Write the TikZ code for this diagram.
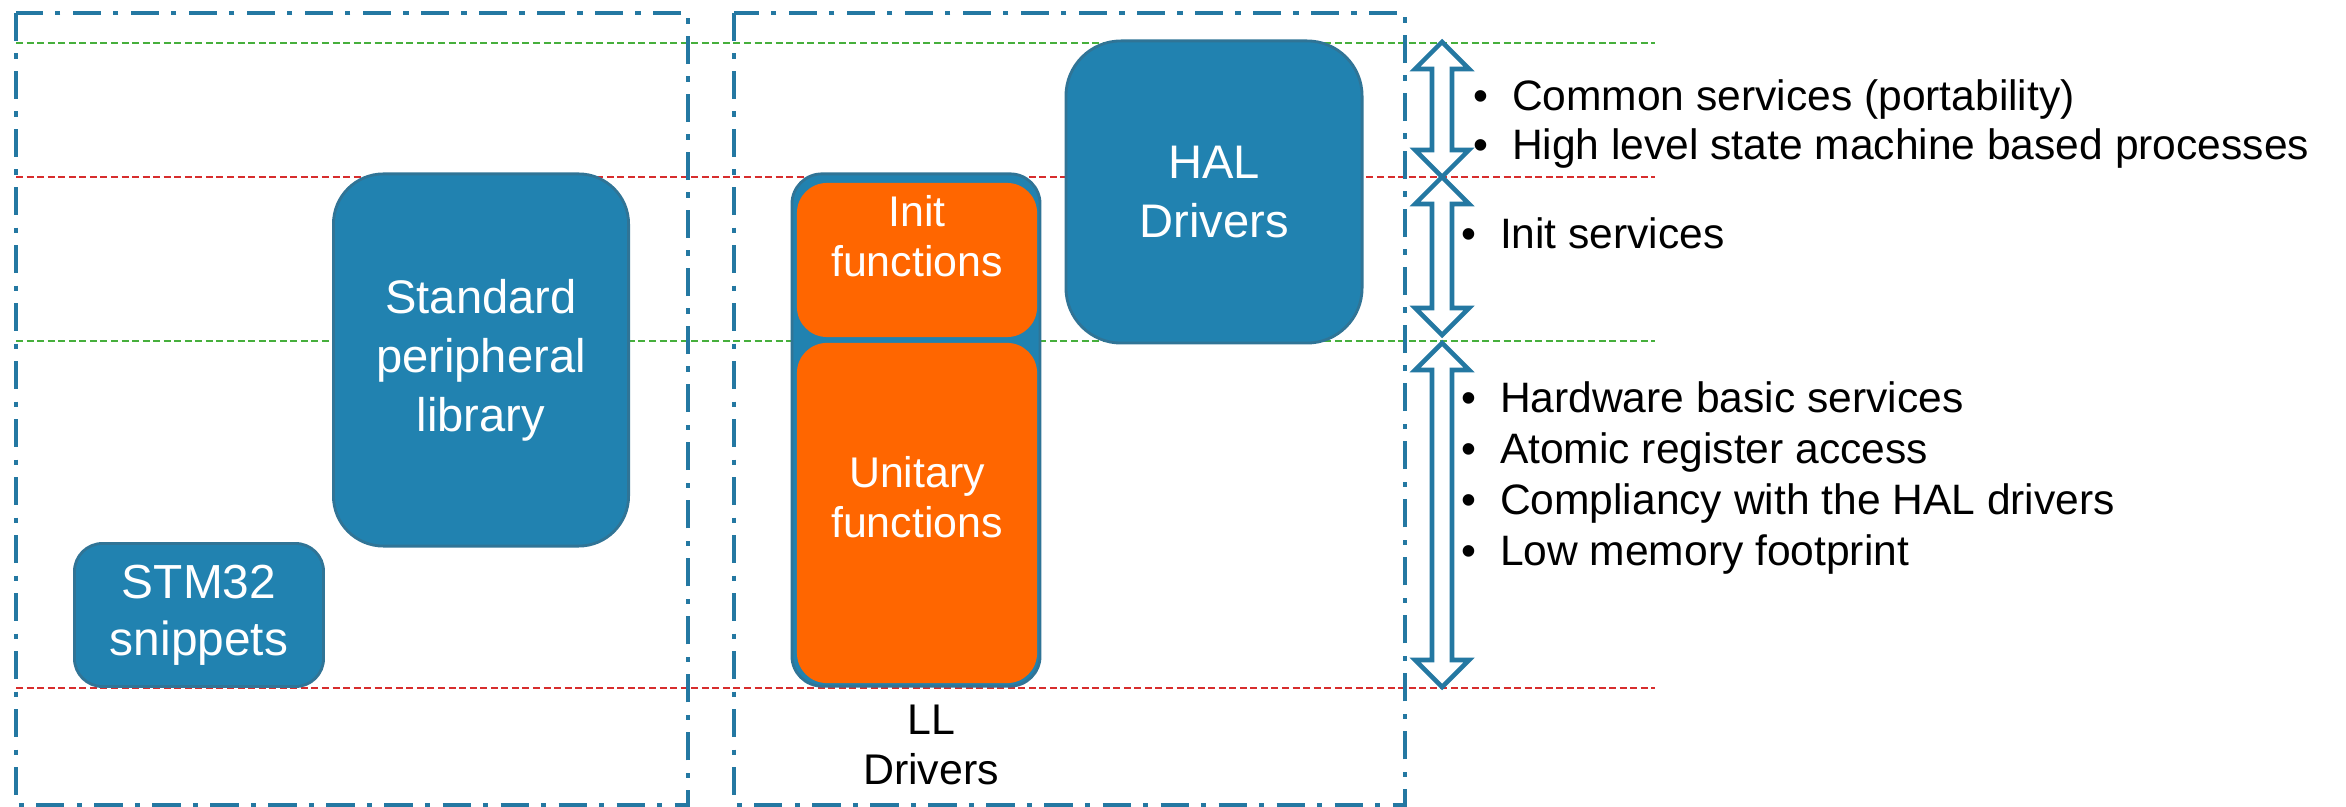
\documentclass[tikz,border=0pt]{standalone}
\usepackage{fontspec}
\setmainfont{Liberation Sans}
\usetikzlibrary{calc}

\definecolor{stblue}{RGB}{33,130,176}
\definecolor{stedge}{RGB}{48,116,150}
\definecolor{storange}{RGB}{255,102,0}
\definecolor{framecol}{RGB}{36,120,162}
\definecolor{lvlgreen}{RGB}{70,175,60}
\definecolor{lvlred}{RGB}{215,45,45}

\newcommand{\spanarrow}[2]{%
  \draw[spanarr] (#1) -- ($(#1)+(27,27)$) -- ($(#1)+(10,27)$)
    -- ($(#2)+(10,-27)$) -- ($(#2)+(27,-27)$) -- (#2)
    -- ($(#2)+(-27,-27)$) -- ($(#2)+(-10,-27)$)
    -- ($(#1)+(-10,27)$) -- ($(#1)+(-27,27)$) -- cycle;}

\begin{document}
\begin{tikzpicture}[x=0.01cm, y=-0.01cm,
  every node/.style = {inner sep=0pt, align=center},
  bluebox/.style = {rectangle, draw=stedge, line width=0.8pt, fill=stblue,
    text=white, font=\fontsize{13.4}{16.8}\selectfont},
  orangebox/.style = {rectangle, fill=storange, rounded corners=0.3cm,
    minimum width=2.40cm},
  boxlabel/.style = {font=\fontsize{12.2}{14.4}\selectfont},
  itemlist/.style = {anchor=west, align=left,
    font=\fontsize{12.1}{13.7}\selectfont},
  frame/.style = {draw=framecol, line width=1.2pt,
    dash pattern=on 8pt off 3.5pt on 1.5pt off 3.5pt},
  greenlvl/.style = {draw=lvlgreen, line width=0.7pt, dash pattern=on 2pt off 1pt},
  redlvl/.style = {draw=lvlred, line width=0.7pt, dash pattern=on 2pt off 1pt},
  spanarr/.style = {draw=framecol, line width=1.3pt, fill=white, line join=miter}]
  \useasboundingbox (0,0) rectangle (2346,807);

  % level lines
  \draw[greenlvl] (16,43) -- (1655,43);
  \draw[redlvl] (16,177) -- (1655,177);
  \draw[greenlvl] (16,341) -- (1655,341);
  \draw[redlvl] (16,688) -- (1655,688);

  \draw[frame] (16,13) rectangle (688,805);
  \draw[frame] (734,13) rectangle (1405,805);

  \node[bluebox, minimum width=2.95cm, minimum height=3.72cm, rounded corners=0.5cm]
    (spl) at (481,360) {Standard\\peripheral\\library};
  \node[bluebox, minimum width=2.49cm, minimum height=1.43cm, rounded corners=0.28cm,
    font=\fontsize{13.6}{16.2}\selectfont] (snip) at (199,615) {STM32\\snippets};
  \node[bluebox, minimum width=2.96cm, minimum height=3.02cm, rounded corners=0.55cm]
    (hal) at (1214,192) {HAL\\Drivers};

  \node[bluebox, minimum width=2.48cm, minimum height=5.12cm, rounded corners=0.3cm]
    (ll) at (916,430) {};
  \node[orangebox, minimum height=1.54cm] (init) at (917,260) {};
  \node[orangebox, minimum height=3.40cm] (unit) at (917,513) {};
  \node[boxlabel, text=white] (initlbl) at (917,236) {Init\\functions};
  \node[boxlabel, text=white] (unitlbl) at (917,497) {Unitary\\functions};
  \node[boxlabel] (lllbl) at (931,745) {LL\\Drivers};

  \coordinate (t1) at (1442,42);  \coordinate (b1) at (1442,177);
  \coordinate (t2) at (1442,177); \coordinate (b2) at (1442,335);
  \coordinate (t3) at (1442,343); \coordinate (b3) at (1442,687);
  \foreach \i in {1,2,3} {\spanarrow{t\i}{b\i}}

  \node[itemlist] (halitems) at (1473,124)
    {\textbullet\hspace{0.55em}Common services (portability)\\
     \textbullet\hspace{0.55em}High level state machine based processes};
  \node[itemlist] (inititems) at (1461,233)
    {\textbullet\hspace{0.55em}Init services};
  \node[itemlist, font=\fontsize{12.1}{14.5}\selectfont] (llitems) at (1461,478)
    {\textbullet\hspace{0.55em}Hardware basic services\\
     \textbullet\hspace{0.55em}Atomic register access\\
     \textbullet\hspace{0.55em}Compliancy with the HAL drivers\\
     \textbullet\hspace{0.55em}Low memory footprint};
\end{tikzpicture}
\end{document}
